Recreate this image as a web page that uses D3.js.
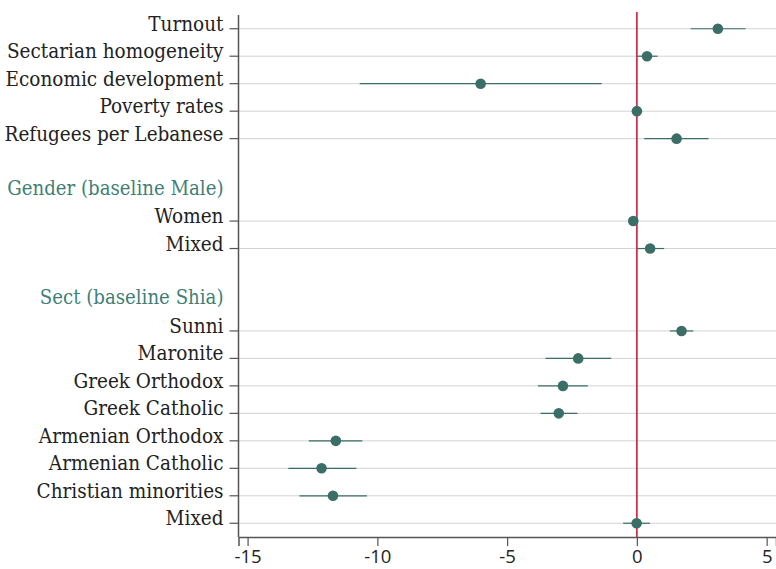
<!DOCTYPE html>
<html>
<head>
<meta charset="utf-8">
<script src="https://cdn.jsdelivr.net/npm/d3@7"></script>
<style>
  body { margin: 0; background: #fff; }
  svg text { font-family: "DejaVu Serif", serif; font-stretch: condensed; }
</style>
</head>
<body>
<div id="chart"></div>
<script>
// Row labels top to bottom; headers and blank spacer rows included
const rows = [
  'Turnout', 'Sectarian homogeneity', 'Economic development', 'Poverty rates',
  'Refugees per Lebanese', '', 'Gender (baseline Male)', 'Women', 'Mixed', ' ',
  'Sect (baseline Shia)', 'Sunni', 'Maronite', 'Greek Orthodox', 'Greek Catholic',
  'Armenian Orthodox', 'Armenian Catholic', 'Christian minorities', 'Mixed '
];
const headers = ['Gender (baseline Male)', 'Sect (baseline Shia)'];

// Coefficients with confidence intervals
const terms = [
  'Turnout', 'Sectarian homogeneity', 'Economic development', 'Poverty rates',
  'Refugees per Lebanese', 'Women', 'Mixed', 'Sunni', 'Maronite', 'Greek Orthodox',
  'Greek Catholic', 'Armenian Orthodox', 'Armenian Catholic', 'Christian minorities', 'Mixed '
];
const estimates = [3.12, 0.39, -6.02, 0.0, 1.53, -0.14, 0.51, 1.72, -2.26, -2.85, -3.01, -11.6, -12.15, -11.71, -0.01];
const lower     = [2.07, 0.0, -10.68, -0.08, 0.28, -0.2, 0.01, 1.27, -3.52, -3.81, -3.71, -12.64, -13.43, -13.0, -0.53];
const upper     = [4.19, 0.8, -1.36, 0.08, 2.76, -0.08, 1.05, 2.17, -0.99, -1.89, -2.29, -10.58, -10.81, -10.4, 0.5];

const xTicks = [-15, -10, -5, 0, 5];

const width = 776, height = 569;
const margin = { top: 15, right: 0, bottom: 32, left: 238.5 };
const teal = '#3b6e67';

const svg = d3.select('#chart').append('svg')
  .attr('width', width)
  .attr('height', height);

const x = d3.scaleLinear()
  .domain([-15.35, 5.36])
  .range([margin.left, width - margin.right]);

const y = d3.scalePoint()
  .domain(rows)
  .range([margin.top, height - margin.bottom])
  .padding(0.5);

// Gridlines for coefficient rows
svg.append('g')
  .selectAll('line')
  .data(terms)
  .join('line')
  .attr('x1', margin.left)
  .attr('x2', width)
  .attr('y1', d => y(d))
  .attr('y2', d => y(d))
  .attr('stroke', '#d3d3d3')
  .attr('stroke-width', 1);

// Zero reference line
svg.append('line')
  .attr('x1', x(0))
  .attr('x2', x(0))
  .attr('y1', 12)
  .attr('y2', height - margin.bottom)
  .attr('stroke', '#c8102e')
  .attr('stroke-width', 1.5);

// Confidence intervals
svg.append('g')
  .selectAll('line')
  .data(terms)
  .join('line')
  .attr('x1', (d, i) => x(lower[i]))
  .attr('x2', (d, i) => x(upper[i]))
  .attr('y1', d => y(d))
  .attr('y2', d => y(d))
  .attr('stroke', teal)
  .attr('stroke-width', 1.2);

// Point estimates
svg.append('g')
  .selectAll('circle')
  .data(terms)
  .join('circle')
  .attr('cx', (d, i) => x(estimates[i]))
  .attr('cy', d => y(d))
  .attr('r', 5.3)
  .attr('fill', teal);

// Y axis: line, ticks and labels
svg.append('line')
  .attr('x1', margin.left)
  .attr('x2', margin.left)
  .attr('y1', margin.top)
  .attr('y2', height - margin.bottom)
  .attr('stroke', '#555')
  .attr('stroke-width', 1.5);

svg.append('g')
  .selectAll('line')
  .data(terms)
  .join('line')
  .attr('x1', margin.left - 9)
  .attr('x2', margin.left)
  .attr('y1', d => y(d))
  .attr('y2', d => y(d))
  .attr('stroke', '#555')
  .attr('stroke-width', 1.2);

svg.append('g')
  .selectAll('text')
  .data(rows.filter(d => d.trim() !== ''))
  .join('text')
  .attr('x', 223.5)
  .attr('y', d => y(d) + (headers.includes(d) ? 1 : 2))
  .attr('text-anchor', 'end')
  .attr('font-size', d => headers.includes(d) ? 20.2 : 20.5)
  .attr('fill', d => headers.includes(d) ? '#3f7f76' : '#222')
  .text(d => d.trim());

// X axis
const xAxis = svg.append('g')
  .attr('transform', `translate(0,${height - margin.bottom})`)
  .call(d3.axisBottom(x).tickValues(xTicks).tickSize(9).tickPadding(4).tickFormat(d => String(d)));

xAxis.select('.domain').attr('stroke', '#555').attr('stroke-width', 1.5);
xAxis.selectAll('.tick line').attr('stroke', '#555').attr('stroke-width', 1.2);
xAxis.selectAll('.tick text')
  .attr('font-size', 18.5)
  .attr('fill', '#222')
  .style('font-family', '"Open Sans", sans-serif')
  .style('font-stretch', 'normal');
</script>
</body>
</html>
